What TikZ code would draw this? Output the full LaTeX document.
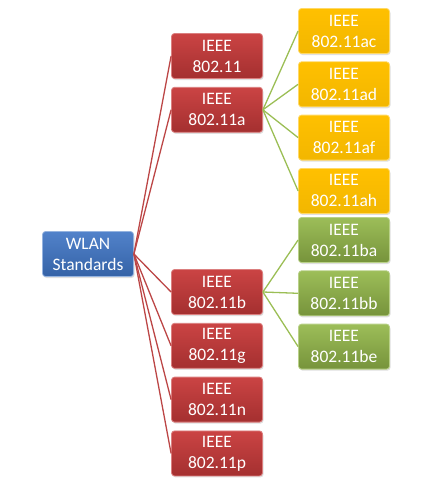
\documentclass[tikz,border=0pt]{standalone}
\usepackage{fontspec}
\setmainfont{Carlito}
\usepackage{tikz}
\usetikzlibrary{positioning,shadows}
\definecolor{wlanblue}{RGB}{62,116,196}
\definecolor{wlanred}{RGB}{200,58,58}
\definecolor{wlangreen}{RGB}{148,184,74}
\definecolor{wlanamber}{RGB}{255,192,0}
\definecolor{redlink}{RGB}{188,70,70}
\definecolor{grnlink}{RGB}{155,190,85}
\tikzset{
  stdbox/.style={rectangle, rounded corners=3pt, minimum width=91pt, minimum height=45pt,
    inner sep=1pt, align=center, text=white, font=\fontsize{17.5}{21}\selectfont,
    line width=0.8pt, drop shadow={shadow xshift=1pt, shadow yshift=-1.5pt, opacity=0.25}},
  rootbox/.style={stdbox, top color=wlanblue!90!white, bottom color=wlanblue!85!black, draw=wlanblue!55!white},
  redbox/.style={stdbox, top color=wlanred!95!white, bottom color=wlanred!82!black, draw=wlanred!65!white},
  ambbox/.style={stdbox, top color=wlanamber, bottom color=wlanamber!95!black, draw=wlanamber!60!white},
  grnbox/.style={stdbox, top color=wlangreen!92!white, bottom color=wlangreen!80!black, draw=wlangreen!65!white},
  redline/.style={draw=redlink, line width=1.3pt},
  grnline/.style={draw=grnlink, line width=1.3pt}
}

\begin{document}
\begin{tikzpicture}[x=1pt,y=-1pt,node distance=8pt]
  \useasboundingbox (0,0) rectangle (436,501);
  % root
  \node[rootbox] (wlan) at (88,254) {WLAN\\Standards};
  % first level
  \node[redbox] (std) at (217,56) {IEEE\\802.11};
  \node[redbox] (stda) [below = of std] {IEEE\\802.11a};
  \node[redbox] (stdb) at (217,292) {IEEE\\802.11b};
  \node[redbox] (stdg) [below = of stdb] {IEEE\\802.11g};
  \node[redbox] (stdn) [below = of stdg] {IEEE\\802.11n};
  \node[redbox] (stdp) [below = of stdn] {IEEE\\802.11p};
  % second level under 802.11a
  \node[ambbox] (stdac) at (344,31) {IEEE\\802.11ac};
  \node[ambbox] (stdad) [below = 7.5pt of stdac] {IEEE\\802.11ad};
  \node[ambbox] (stdaf) [below = 7.5pt of stdad] {IEEE\\802.11af};
  \node[ambbox] (stdah) [below = 7.5pt of stdaf] {IEEE\\802.11ah};
  % second level under 802.11b
  \node[grnbox] (stdba) at (344,240) {IEEE\\802.11ba};
  \node[grnbox] (stdbb) [below = 7.5pt of stdba] {IEEE\\802.11bb};
  \node[grnbox] (stdbe) [below = 7.5pt of stdbb] {IEEE\\802.11be};
  % connectors
  \path (wlan.east) edge[redline] (std.west);
  \path (wlan.east) edge[redline] (stda.west);
  \path (wlan.east) edge[redline] (stdb.west);
  \path (wlan.east) edge[redline] (stdg.west);
  \path (wlan.east) edge[redline] (stdn.west);
  \path (wlan.east) edge[redline] (stdp.west);
  \path (stda.east) edge[grnline] (stdac.west);
  \path (stda.east) edge[grnline] (stdad.west);
  \path (stda.east) edge[grnline] (stdaf.west);
  \path (stda.east) edge[grnline] (stdah.west);
  \path (stdb.east) edge[grnline] (stdba.west);
  \path (stdb.east) edge[grnline] (stdbb.west);
  \path (stdb.east) edge[grnline] (stdbe.west);
\end{tikzpicture}
\end{document}
